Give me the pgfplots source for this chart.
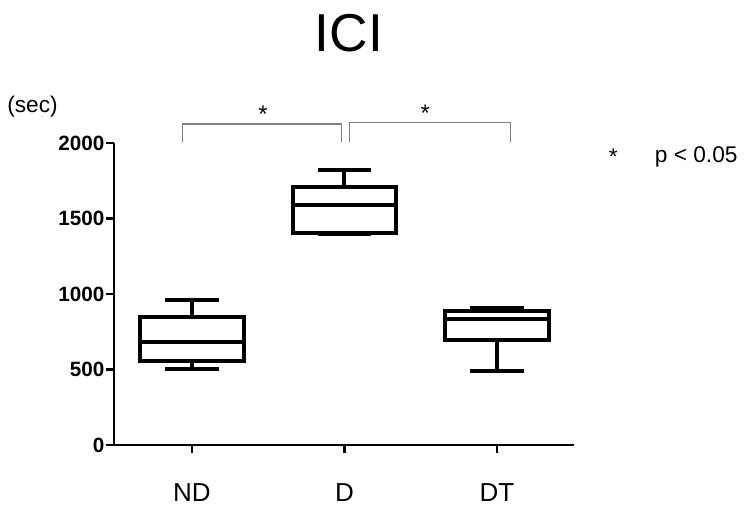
\documentclass[border=0pt]{standalone}
\usepackage{pgfplots}
\pgfplotsset{compat=1.18}
\usepgfplotslibrary{statistics}
\usepackage{fontspec}
\setmainfont{Liberation Sans}
\begin{document}
\begin{tikzpicture}
\path[use as bounding box] (0,0) rectangle (558.75pt,-379.5pt);
\begin{axis}[
  at={(85.5pt,-333.75pt)}, anchor=south west,
  scale only axis, width=345pt, height=226.5pt,
  xmin=-0.511, xmax=2.505, ymin=0, ymax=2000,
  axis x line*=bottom, axis y line*=left,
  axis line style={line width=2pt},
  every tick/.style={line width=1.8pt, black},
  tick align=outside, major tick length=6pt,
  xtick={0,1,2}, xticklabels={ND,D,DT},
  ytick={0,500,1000,1500,2000},
  /pgf/number format/assume math mode=true,
  /pgf/number format/1000 sep={},
  yticklabel style={font=\fontsize{15.5}{15.5}\selectfont\bfseries, inner sep=1pt},
  xticklabel style={font=\fontsize{19.5}{19.5}\selectfont, inner sep=0pt, yshift=-22.5pt},
  clip=false,
  boxplot/draw direction=y,
  boxplot/box extend=0.68,
  boxplot/whisker extend=0.35,
]
\addplot[black, line width=3pt, solid, boxplot prepared={draw position=0, lower whisker=503, lower quartile=558, median=680, upper quartile=850, upper whisker=960}] coordinates {};
\addplot[black, line width=3pt, solid, boxplot prepared={draw position=1, lower whisker=1395, lower quartile=1406, median=1589, upper quartile=1711, upper whisker=1821}] coordinates {};
\addplot[black, line width=3pt, solid, boxplot prepared={draw position=2, lower whisker=492, lower quartile=695, median=832, upper quartile=889, upper whisker=905}] coordinates {};
\draw[gray, line width=0.8pt] (axis cs:-0.06,2007) -- (axis cs:-0.06,2126) -- (axis cs:0.98,2126) -- (axis cs:0.98,2007);
\draw[gray, line width=0.8pt] (axis cs:1.03,2007) -- (axis cs:1.03,2133) -- (axis cs:2.09,2133) -- (axis cs:2.09,2007);
\node[font=\fontsize{18}{18}\selectfont] at (axis cs:0.466,2190) {*};
\node[font=\fontsize{18}{18}\selectfont] at (axis cs:1.53,2195) {*};
\end{axis}
\node[anchor=base, font=\fontsize{40}{40}\selectfont] at (261.75pt,-39pt) {ICI};
\node[anchor=base west, inner sep=0pt, font=\fontsize{17}{17}\selectfont] at (5.25pt,-84.75pt) {(sec)};
\node[anchor=base, inner sep=0pt, font=\fontsize{17}{17}\selectfont] at (460pt,-123pt) {*};
\node[anchor=base west, inner sep=0pt, font=\fontsize{17}{17}\selectfont] at (491pt,-121.5pt) {p < 0.05};
\end{tikzpicture}
\end{document}
